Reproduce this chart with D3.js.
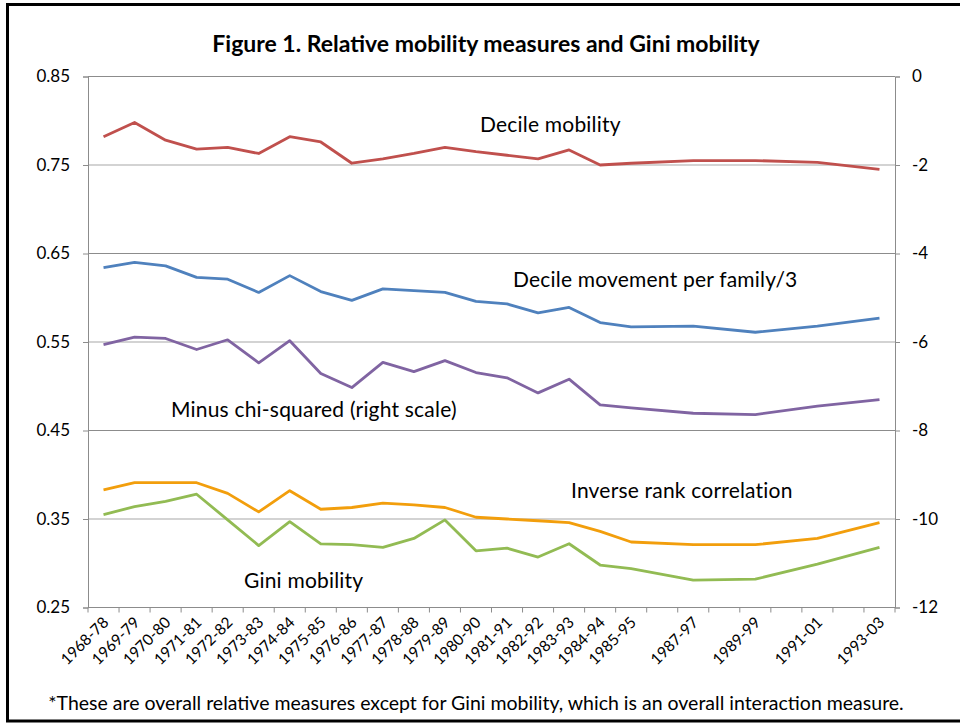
<!DOCTYPE html>
<html>
<head>
<meta charset="utf-8">
<script src="https://cdn.jsdelivr.net/npm/d3@7"></script>
<style>
  body { margin: 0; background: #fff; }
  svg { display: block; font-family: Lato, "Open Sans", sans-serif; }
</style>
</head>
<body>
<svg id="chart" width="960" height="723"></svg>
<script>
// periods with data; the blank slots 1986, 1988, 1990, 1992 stay empty on the axis
var periods = ["1968-78","1969-79","1970-80","1971-81","1972-82","1973-83","1974-84","1975-85",
  "1976-86","1977-87","1978-88","1979-89","1980-90","1981-91","1982-92","1983-93","1984-94",
  "1985-95","1987-97","1989-99","1991-01","1993-03"];
var slotYears = d3.range(1968, 1994);

var decileMobility = [0.782,0.798,0.778,0.768,0.770,0.763,0.782,0.776,0.752,0.757,0.763,0.770,
  0.765,0.761,0.757,0.767,0.750,0.752,0.755,0.755,0.753,0.745];
var decileMovement = [0.634,0.640,0.636,0.623,0.621,0.606,0.625,0.607,0.597,0.610,0.608,0.606,
  0.596,0.593,0.583,0.589,0.572,0.567,0.568,0.561,0.568,0.577];
// right scale
var minusChiSq = [-6.06,-5.89,-5.92,-6.17,-5.95,-6.47,-5.97,-6.71,-7.03,-6.46,-6.67,-6.42,
  -6.69,-6.81,-7.15,-6.84,-7.42,-7.49,-7.61,-7.64,-7.45,-7.30];
var inverseRank = [0.383,0.391,0.391,0.391,0.379,0.358,0.382,0.361,0.363,0.368,0.366,0.363,
  0.352,0.350,0.348,0.346,0.336,0.324,0.321,0.321,0.328,0.346];
var giniMobility = [0.355,0.364,0.370,0.378,0.349,0.320,0.347,0.322,0.321,0.318,0.328,0.349,
  0.314,0.317,0.307,0.322,0.298,0.294,0.281,0.282,0.299,0.318];

var leftTicks = [0.25,0.35,0.45,0.55,0.65,0.75,0.85];
var rightTicks = [-12,-10,-8,-6,-4,-2,0];

var svg = d3.select("#chart");

// outer frame
svg.append("rect")
  .attr("x", 7.5).attr("y", 4.5).attr("width", 970).attr("height", 716.5)
  .attr("fill", "none").attr("stroke", "#000").attr("stroke-width", 3);

var plot = {left: 88, right: 895, top: 76.5, bottom: 607.5};

var x = d3.scaleBand().domain(slotYears).range([plot.left, plot.right]);
var yL = d3.scaleLinear().domain([0.25, 0.85]).range([plot.bottom, plot.top]);
var yR = d3.scaleLinear().domain([-12, 0]).range([plot.bottom, plot.top]);

function cx(p) { return x(+p.slice(0, 4)) + x.bandwidth() / 2; }

// gridlines
svg.append("g").selectAll("line")
  .data(leftTicks.slice(1))
  .enter().append("line")
  .attr("x1", plot.left).attr("x2", plot.right)
  .attr("y1", function(d) { return yL(d); })
  .attr("y2", function(d) { return yL(d); })
  .attr("stroke", function(d, i) { return i % 2 === 0 ? "#c4c4c4" : "#8c8c8c"; })
  .attr("stroke-width", function(d, i) { return i % 2 === 0 ? 1.6 : 1; });

// axes
var axisColor = "#8c8c8c";
var gL = svg.append("g").attr("transform", "translate(" + plot.left + ",0)")
  .call(d3.axisLeft(yL).tickValues(leftTicks).tickFormat(d3.format(".2f")).tickSize(5).tickPadding(13));
var gR = svg.append("g").attr("transform", "translate(" + plot.right + ",0)")
  .call(d3.axisRight(yR).tickValues(rightTicks).tickFormat(function(d) { return d < 0 ? "-" + (-d) : d; }).tickSize(5).tickPadding(12));
[gL, gR].forEach(function(g) {
  g.select(".domain").attr("stroke", axisColor);
  g.selectAll(".tick line").attr("stroke", axisColor);
  g.selectAll(".tick text").attr("fill", "#000").style("font-size", "17px").style("font-family", "Lato, sans-serif");
});

// bottom axis: line plus tick marks between categories
var gB = svg.append("g");
gB.append("line")
  .attr("x1", plot.left).attr("x2", plot.right)
  .attr("y1", plot.bottom).attr("y2", plot.bottom)
  .attr("stroke", axisColor);
gB.selectAll("line.tk")
  .data(slotYears.concat([null]))
  .enter().append("line").attr("class", "tk")
  .attr("x1", function(d) { return d === null ? plot.right : x(d); })
  .attr("x2", function(d) { return d === null ? plot.right : x(d); })
  .attr("y1", plot.bottom).attr("y2", plot.bottom + 5)
  .attr("stroke", axisColor);
gB.selectAll("text")
  .data(periods)
  .enter().append("text")
  .attr("transform", function(d) { return "translate(" + (cx(d) + 6) + "," + (plot.bottom + 16) + ") rotate(-45)"; })
  .attr("text-anchor", "end")
  .style("font-size", "15.5px")
  .text(function(d) { return d; });

// series
var series = [
  {values: decileMobility, y: yL, color: "#c0504d"},
  {values: decileMovement, y: yL, color: "#4f81bd"},
  {values: minusChiSq, y: yR, color: "#8064a2"},
  {values: inverseRank, y: yL, color: "#f29e0c"},
  {values: giniMobility, y: yL, color: "#92bb53"}
];

series.forEach(function(s) {
  var line = d3.line()
    .x(function(d, i) { return cx(periods[i]); })
    .y(function(d) { return s.y(d); });
  svg.append("path")
    .datum(s.values)
    .attr("d", line)
    .attr("fill", "none")
    .attr("stroke", s.color)
    .attr("stroke-width", 2.8)
    .attr("stroke-linejoin", "round");
});

// in-chart labels
var labels = [
  {text: "Decile mobility", x: 480, y: 132},
  {text: "Decile movement per family/3", x: 513, y: 287},
  {text: "Minus chi-squared (right scale)", x: 171, y: 417},
  {text: "Inverse rank correlation", x: 571, y: 498},
  {text: "Gini mobility", x: 244, y: 588}
];
svg.append("g").selectAll("text")
  .data(labels)
  .enter().append("text")
  .attr("x", function(d) { return d.x; })
  .attr("y", function(d) { return d.y; })
  .style("font-size", "21px")
  .style("letter-spacing", "0.2px")
  .text(function(d) { return d.text; });

// title
svg.append("text")
  .attr("x", 486).attr("y", 52)
  .attr("text-anchor", "middle")
  .style("font-size", "23px").style("font-weight", "bold")
  .text("Figure 1. Relative mobility measures and Gini mobility");

// footnote
svg.append("text")
  .attr("x", 476).attr("y", 710)
  .attr("text-anchor", "middle")
  .style("font-size", "19.5px")
  .text("*These are overall relative measures except for Gini mobility, which is an overall interaction measure.");
</script>
</body>
</html>
